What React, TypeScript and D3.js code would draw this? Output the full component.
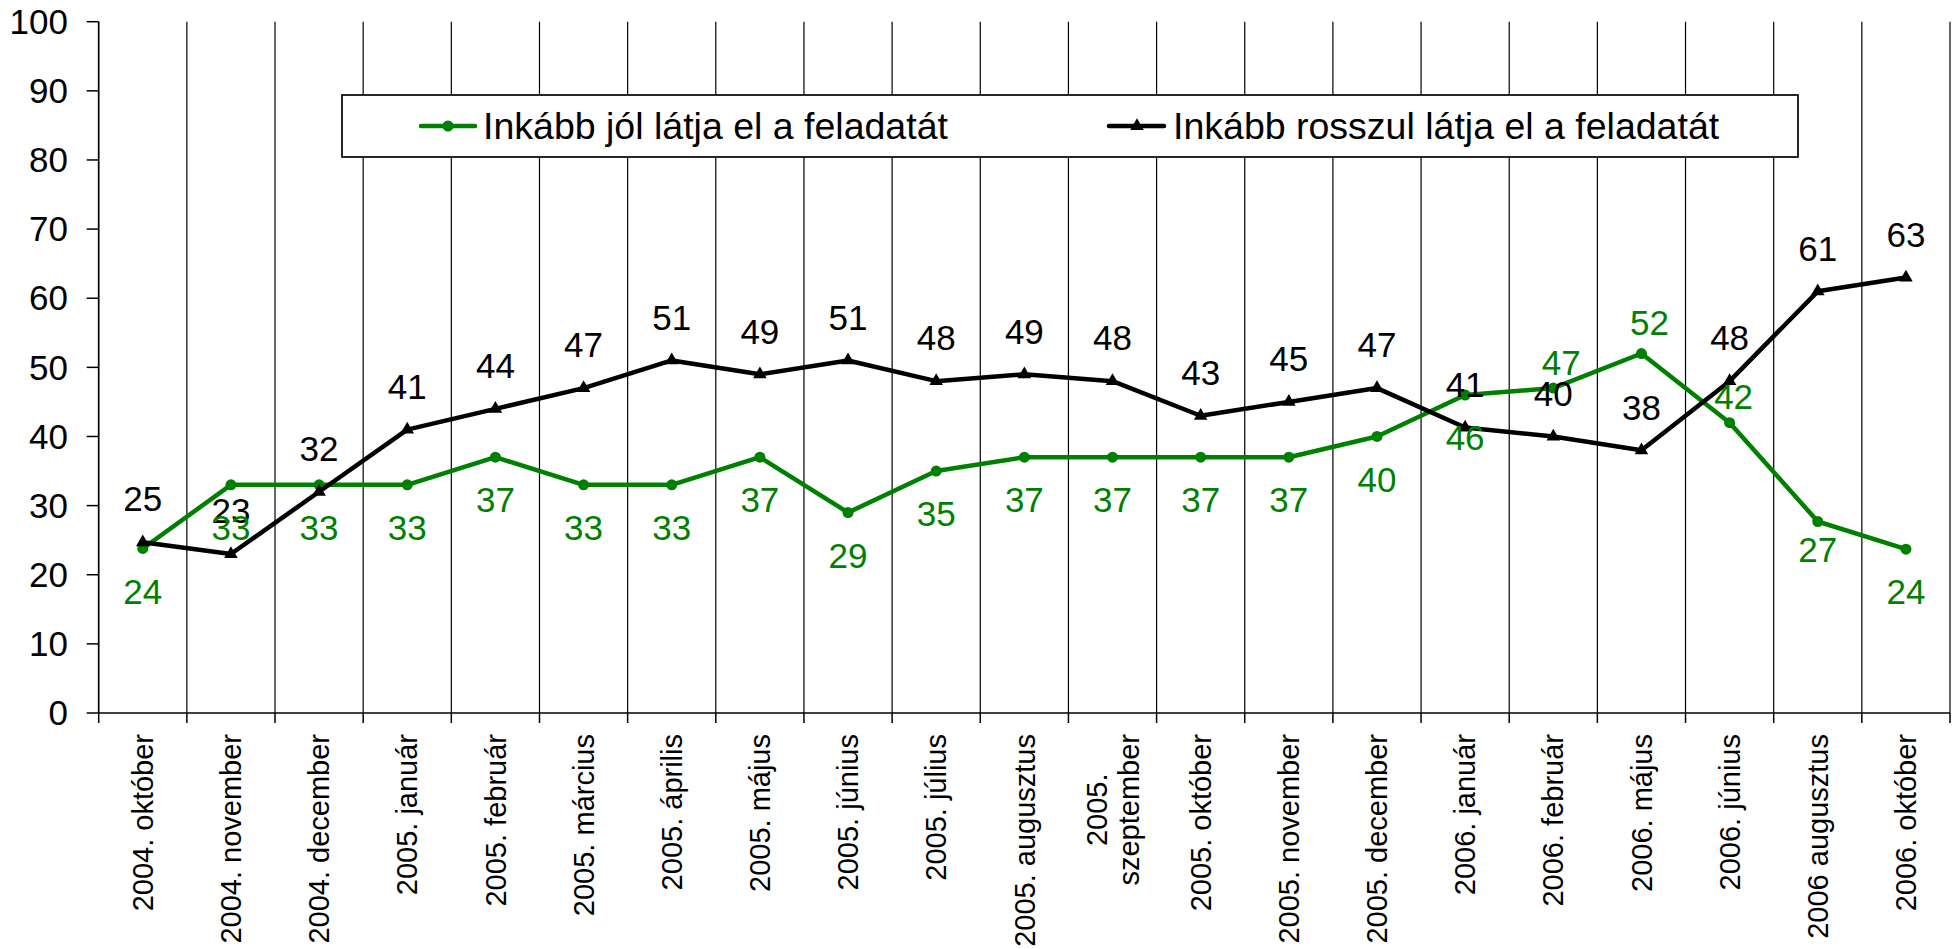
import React, { useEffect, useRef } from "react";
import * as d3 from "d3";

const categories = [
  "2004. október", "2004. november", "2004. december", "2005. január", "2005. február",
  "2005. március", "2005. április", "2005. május", "2005. június", "2005. július",
  "2005. augusztus", "2005.\nszeptember", "2005. október", "2005. november", "2005. december",
  "2006. január", "2006. február", "2006. május", "2006. június", "2006 augusztus", "2006. október",
];
const jolValues = [23.8, 33, 33, 33, 37, 33, 33, 37, 29, 35, 37, 37, 37, 37, 40, 46, 47, 52, 42, 27.7, 23.7];
const jolLabels = ["24", "33", "33", "33", "37", "33", "33", "37", "29", "35", "37", "37", "37", "37", "40", "46", "47", "52", "42", "27", "24"];
const rosszulValues = [24.7, 23, 32, 41, 44, 47, 51, 49, 51, 48, 49, 48, 43, 45, 47, 41.3, 40, 38, 48, 61, 63];
const rosszulLabels = ["25", "23", "32", "41", "44", "47", "51", "49", "51", "48", "49", "48", "43", "45", "47", "41", "40", "38", "48", "61", "63"];
const yTicks = [0, 10, 20, 30, 40, 50, 60, 70, 80, 90, 100];
const seriesNames = ["Inkább jól látja el a feladatát", "Inkább rosszul látja el a feladatát"];

// manual label nudges (label centre relative to point) for moved labels
const jolLabelNudge: Record<number, [number, number]> = {
  16: [8, -25],
  17: [8, -31],
  18: [4, -26],
  19: [0, 28],
};

const GREEN = "#008000";
const FONT = "'Liberation Sans', Arial, sans-serif";

export default function App() {
  const ref = useRef<SVGSVGElement | null>(null);

  useEffect(() => {
    const svg = d3.select(ref.current);
    svg.selectAll("*").remove();

    const left = 98.7, right = 1950, top = 21.7, bottom = 713;
    const x = d3.scaleBand<string>().domain(categories).range([left, right]).padding(0);
    const y = d3.scaleLinear().domain([0, 100]).range([bottom, top]);
    const cx = (i: number) => (x(categories[i]) as number) + x.bandwidth() / 2;

    // vertical gridlines at category boundaries
    const bounds = d3.range(categories.length + 1).map((i) => left + i * x.bandwidth());
    svg.append("g").selectAll("line").data(bounds.slice(1)).join("line")
      .attr("x1", (d) => d).attr("x2", (d) => d)
      .attr("y1", top).attr("y2", bottom)
      .attr("stroke", "#000").attr("stroke-width", 1.2);

    // x ticks
    svg.append("g").selectAll("line").data(bounds).join("line")
      .attr("x1", (d) => d).attr("x2", (d) => d)
      .attr("y1", bottom).attr("y2", bottom + 10)
      .attr("stroke", "#000").attr("stroke-width", 1.5);

    // axes
    svg.append("line").attr("x1", left).attr("x2", left).attr("y1", top).attr("y2", bottom)
      .attr("stroke", "#000").attr("stroke-width", 1.7);
    svg.append("line").attr("x1", left).attr("x2", right).attr("y1", bottom).attr("y2", bottom)
      .attr("stroke", "#000").attr("stroke-width", 1.7);
    const yg = svg.append("g");
    yg.selectAll("line").data(yTicks).join("line")
      .attr("x1", left - 12).attr("x2", left)
      .attr("y1", (d) => y(d)).attr("y2", (d) => y(d))
      .attr("stroke", "#000").attr("stroke-width", 1.5);
    yg.selectAll("text").data(yTicks).join("text")
      .attr("x", 68).attr("y", (d) => y(d)).attr("dy", "0.35em")
      .attr("text-anchor", "end").attr("font-family", FONT).attr("font-size", 35)
      .text((d) => String(d));

    // x labels
    const xg = svg.append("g");
    categories.forEach((c, i) => {
      const g = xg.append("g").attr("transform", `translate(${cx(i)},734) rotate(-90)`);
      const lines = c.split("\n");
      if (lines.length === 1) {
        g.append("text").attr("x", 0).attr("y", 0).attr("dy", "0.35em")
          .attr("text-anchor", "end").attr("font-family", FONT).attr("font-size", 29)
          .text(c);
      } else {
        const texts = lines.map((ln, k) =>
          g.append("text").attr("font-family", FONT).attr("font-size", 29)
            .attr("text-anchor", "middle")
            .attr("dy", `${0.35 + (k - (lines.length - 1) / 2) * 1.1}em`)
            .text(ln)
        );
        const maxW = d3.max(texts, (t) => (t.node() as SVGTextElement).getComputedTextLength()) || 0;
        texts.forEach((t) => t.attr("x", -maxW / 2));
      }
    });

    // legend
    const lg = svg.append("g");
    lg.append("rect").attr("x", 342).attr("y", 95).attr("width", 1456).attr("height", 62)
      .attr("fill", "#fff").attr("stroke", "#000").attr("stroke-width", 1.7);
    const ly = 126;
    lg.append("line").attr("x1", 421).attr("x2", 475).attr("y1", ly).attr("y2", ly)
      .attr("stroke", GREEN).attr("stroke-width", 4.5).attr("stroke-linecap", "round");
    lg.append("circle").attr("cx", 448).attr("cy", ly).attr("r", 5.5).attr("fill", GREEN);
    lg.append("text").attr("x", 483).attr("y", ly).attr("dy", "0.35em")
      .attr("font-family", FONT).attr("font-size", 37.5).text(seriesNames[0]);
    lg.append("line").attr("x1", 1109).attr("x2", 1164).attr("y1", ly).attr("y2", ly)
      .attr("stroke", "#000").attr("stroke-width", 4.5).attr("stroke-linecap", "round");
    lg.append("path").attr("d", d3.symbol(d3.symbolTriangle, 80)() as string)
      .attr("transform", `translate(1137,${ly})`).attr("fill", "#000");
    lg.append("text").attr("x", 1173).attr("y", ly).attr("dy", "0.35em")
      .attr("font-family", FONT).attr("font-size", 37.5).text(seriesNames[1]);

    // series lines
    const line = d3.line<number>().x((_, i) => cx(i)).y((d) => y(d));
    svg.append("path").attr("d", line(jolValues) as string)
      .attr("fill", "none").attr("stroke", GREEN).attr("stroke-width", 4.5).attr("stroke-linejoin", "round");
    svg.append("g").selectAll("circle").data(jolValues).join("circle")
      .attr("cx", (_, i) => cx(i)).attr("cy", (d) => y(d)).attr("r", 5.5).attr("fill", GREEN);

    svg.append("path").attr("d", line(rosszulValues) as string)
      .attr("fill", "none").attr("stroke", "#000").attr("stroke-width", 4.5).attr("stroke-linejoin", "round");
    const tri = d3.symbol(d3.symbolTriangle, 80)() as string;
    svg.append("g").selectAll("path").data(rosszulValues).join("path")
      .attr("d", tri).attr("transform", (d, i) => `translate(${cx(i)},${y(d)})`).attr("fill", "#000");

    // data labels
    svg.append("g").selectAll("text").data(rosszulValues).join("text")
      .attr("x", (_, i) => cx(i)).attr("y", (d) => y(d) - 43).attr("dy", "0.35em")
      .attr("text-anchor", "middle").attr("font-family", FONT).attr("font-size", 35)
      .attr("fill", "#000").text((_, i) => rosszulLabels[i]);
    svg.append("g").selectAll("text").data(jolValues).join("text")
      .attr("x", (_, i) => cx(i) + (jolLabelNudge[i] ? jolLabelNudge[i][0] : 0))
      .attr("y", (d, i) => y(d) + (jolLabelNudge[i] ? jolLabelNudge[i][1] : 43))
      .attr("dy", "0.35em")
      .attr("text-anchor", "middle").attr("font-family", FONT).attr("font-size", 35)
      .attr("fill", GREEN).text((_, i) => jolLabels[i]);
  }, []);

  return (
    <svg
      ref={ref}
      width={1957}
      height={949}
      style={{ position: "absolute", left: 0, top: 0, background: "#fff" }}
    />
  );
}
